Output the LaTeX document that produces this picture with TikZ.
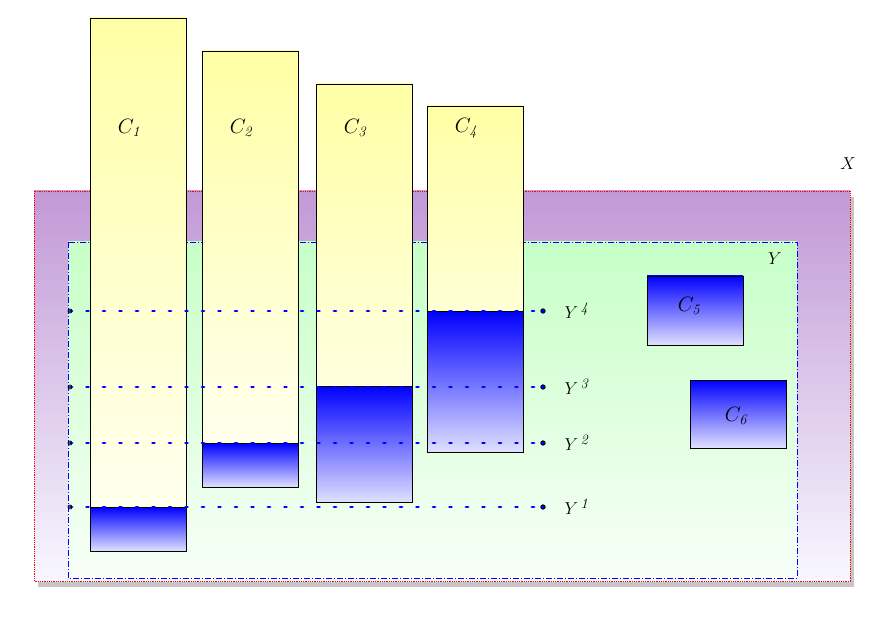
\documentclass[tikz,border=0pt]{standalone}
\usepackage{tikz}
\usetikzlibrary{positioning,shadows,calc}
\newcommand*{\lab}[2]{$#1_{\mathit{#2}}$}
\newcommand*{\lev}[1]{$Y^{\,\mathit{#1}}$}
\tikzset{
  column/.style={draw,thick,top color=yellow!35,middle color=yellow!55,bottom color=yellow!4},
  filled/.style={draw,thick,top color=blue,bottom color=blue!12},
  level/.style={blue,line width=2.8pt,dash pattern=on 2pt off 14.5pt,line cap=round},
  txt/.style={font=\fontsize{22}{26}\selectfont}
}
\begin{document}
\begin{tikzpicture}[x=1pt,y=-1pt]
\useasboundingbox (0,0) rectangle (894,620);
% outer set X
\draw[red,densely dotted,thick,top color=blue!20!violet!40!white,bottom color=blue!3,
      drop shadow={shadow xshift=4pt,shadow yshift=-6pt,opacity=.45}]
  (34,191) rectangle (850,581);
\node[font=\fontsize{18}{22}\selectfont] (X) at (848,164) {$X$};
% inner set Y
\draw[blue,thick,dash pattern=on 6pt off 2pt on 1pt off 2pt,
      top color=green!22,bottom color=green!3]
  (68,242) rectangle (797,578);
\node[font=\fontsize{16}{20}\selectfont] (Y) at (775,259) {$Y$};
% columns with their lower parts
\foreach \x/\t/\b/\f/\n in {90/18/551/507/1,202/51/487/443/2,316/84/502/386/3,427/106/452/311/4}{
  \draw[column] (\x,\t) rectangle ++(96,\b-\t);
  \draw[filled] (\x,\f) rectangle ++(96,\b-\f);
  \node[txt] (c\n) at (\x+40,128) {\lab{C}{\n}};
}
% loose blocks
\draw[filled] (647,276) rectangle (743,345);
\node[txt] (c5) at (690,306) {\lab{C}{5}};
\draw[filled] (690,380) rectangle (786,448);
\node[txt] (c6) at (737,416) {\lab{C}{6}};
% levels
\foreach \y/\n in {311/4,387/3,443/2,507/1}{
  \coordinate (l\n) at (70,\y);
  \coordinate (r\n) at (543,\y);
  \draw[level] (l\n) -- (r\n);
  \draw[thick] (l\n) circle (2pt);
  \draw[thick,fill=blue] (r\n) circle (2.2pt);
  \node[font=\fontsize{19}{23}\selectfont,right=18pt of r\n] (y\n) {\lev{\n}};
}
\end{tikzpicture}
\end{document}
